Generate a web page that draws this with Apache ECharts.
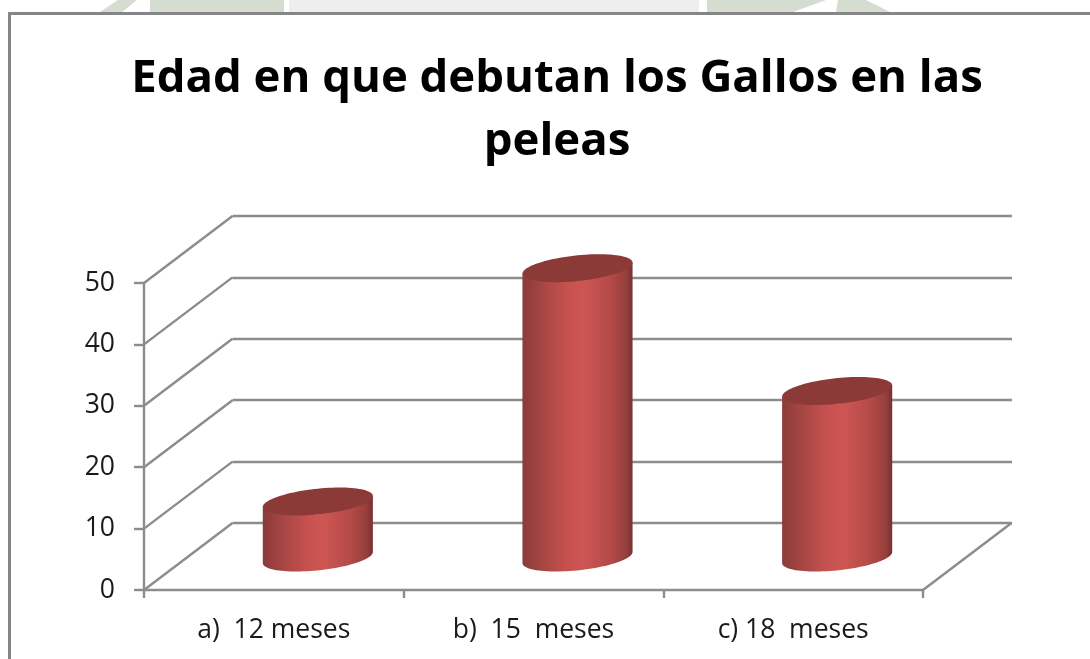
<!DOCTYPE html>
<html><head><meta charset="utf-8">
<style>html,body{margin:0;padding:0;background:#fff}#c{width:1090px;height:659px}</style>
<script src="https://cdn.jsdelivr.net/npm/echarts@6/dist/echarts.min.js"></script>
</head><body><div id="c"></div>
<script>
const titleText = 'Edad en que debutan los Gallos en las\npeleas';
const categories = ['a)  12 meses', 'b)  15  meses', 'c) 18  meses'];
const values = [9.2, 47.2, 27.2];
const yTicks = [0, 10, 20, 30, 40, 50];

const AXIS = '#8c8c8c';
const LINE_W = 2.4;
const DEPTH_X = 88.5, DEPTH_Y = -67;
const chart = echarts.init(document.getElementById('c'), null, {renderer: 'canvas'});

function sidesGradient() {
  return new echarts.graphic.LinearGradient(0, 0, 1, 0, [
    {offset: 0, color: '#8a3b39'},
    {offset: 0.2, color: '#a94745'},
    {offset: 0.42, color: '#c8524f'},
    {offset: 0.56, color: '#cd5653'},
    {offset: 0.8, color: '#b34a47'},
    {offset: 0.94, color: '#963f3d'},
    {offset: 1, color: '#773030'}
  ]);
}
function rim(cx, cy, a, from, to, n) {
  const pts = [];
  for (let i = 0; i <= n; i++) {
    const t = from + (to - from) * i / n;
    pts.push([cx + a * Math.cos(t), cy - a * 0.1 * Math.cos(t) + a * 0.234 * Math.sin(t)]);
  }
  return pts;
}
function renderCylinder(params, api) {
  const top = api.coord([api.value(0), api.value(1)]);
  const base = api.coord([api.value(0), 0]);
  const a = api.size([1, 0])[0] * 0.212;
  const cx = top[0];
  const lower = rim(cx, base[1] + 0.5, a, 0, Math.PI, 48);
  const upper = rim(cx, top[1] + 1, a, Math.PI, 0, 2);
  const cap = rim(cx, top[1] + 1, a, 0, Math.PI * 2, 96);
  return {
    type: 'group',
    children: [
      {type: 'polygon', shape: {points: lower.concat(upper)}, style: {fill: sidesGradient()}},
      {type: 'polygon', shape: {points: cap}, style: {fill: '#8b3a38'}}
    ]
  };
}
function renderDiagonal(params, api) {
  const p = api.coord([0, api.value(0)]);
  const band = api.size([1, 0])[0];
  const x0 = api.value(1) ? api.coord([2, 0])[0] + band / 2 : api.coord([0, 0])[0] - band / 2;
  return {
    type: 'line',
    shape: {x1: x0, y1: p[1], x2: x0 + DEPTH_X, y2: p[1] + DEPTH_Y},
    style: {stroke: AXIS, lineWidth: LINE_W}
  };
}

const font = '"Open Sans", "Noto Sans", sans-serif';
const option = {
  animation: false,
  backgroundColor: '#fff',
  title: {
    text: titleText, left: 552, top: 43, textAlign: 'center',
    textStyle: {fontFamily: font, fontWeight: 'bold', fontSize: 45.5, lineHeight: 63, color: '#000'}
  },
  graphic: [
    {type: 'polygon', shape: {points: [[100,12],[118,0],[137,0],[122,12]]}, style: {fill: '#d5dcd0'}, z: -3, silent: true},
    {type: 'rect', shape: {x: 150, y: 0, width: 134, height: 12}, style: {fill: '#d5dcd0'}, z: -3, silent: true},
    {type: 'rect', shape: {x: 289, y: 0, width: 410, height: 12}, style: {fill: '#eeefec'}, z: -3, silent: true},
    {type: 'polygon', shape: {points: [[707,0],[826,0],[793,12],[707,12]]}, style: {fill: '#d5dcd0'}, z: -3, silent: true},
    {type: 'polygon', shape: {points: [[838,0],[866,0],[890,12],[836,12]]}, style: {fill: '#d5dcd0'}, z: -3, silent: true},
    {type: 'rect', shape: {x: 9.5, y: 13.5, width: 1200, height: 800},
     style: {fill: '#fff', stroke: '#868686', lineWidth: 3}, z: -2, silent: true}
  ],
  grid: [
    {left: 144, top: 283, width: 779, height: 307},
    {left: 232.5, top: 216, width: 779.5, height: 307},
    {left: 188, top: 250, width: 779, height: 307}
  ],
  xAxis: [
    {gridIndex: 0, type: 'category', data: categories,
     axisLine: {lineStyle: {color: AXIS, width: LINE_W}},
     axisTick: {show: true, alignWithLabel: false, length: 8, lineStyle: {color: AXIS, width: LINE_W}},
     axisLabel: {color: '#1a1a1a', fontFamily: font, fontSize: 26.5, margin: 27}},
    {gridIndex: 1, type: 'category', data: categories, show: false},
    {gridIndex: 2, type: 'category', data: categories, show: false}
  ],
  yAxis: [
    {gridIndex: 0, type: 'value', min: 0, max: 50, interval: 10,
     axisLine: {show: true, lineStyle: {color: AXIS, width: LINE_W}},
     axisTick: {show: true, length: 10, lineStyle: {color: AXIS, width: LINE_W}},
     splitLine: {show: false},
     axisLabel: {color: '#1a1a1a', fontFamily: font, fontSize: 26.5, margin: 29, padding: [4, 0, 0, 0]}},
    {gridIndex: 1, type: 'value', min: 0, max: 50, interval: 10,
     axisLine: {show: false}, axisTick: {show: false}, axisLabel: {show: false},
     splitLine: {show: true, lineStyle: {color: AXIS, width: LINE_W}}},
    {gridIndex: 2, type: 'value', min: 0, max: 50, interval: 10, show: false, splitLine: {show: false}}
  ],
  series: [
    {type: 'custom', name: 'depth', coordinateSystem: 'cartesian2d', xAxisIndex: 0, yAxisIndex: 0,
     renderItem: renderDiagonal, silent: true, clip: false,
     data: yTicks.map(v => [v, 0]).concat([[0, 1]]), encode: {y: 0}},
    {type: 'custom', name: 'Gallos', coordinateSystem: 'cartesian2d', xAxisIndex: 2, yAxisIndex: 2,
     renderItem: renderCylinder, clip: false, z: 5,
     data: values.map((v, i) => [i, v]), encode: {x: 0, y: 1}}
  ]
};
chart.setOption(option);
</script></body></html>
